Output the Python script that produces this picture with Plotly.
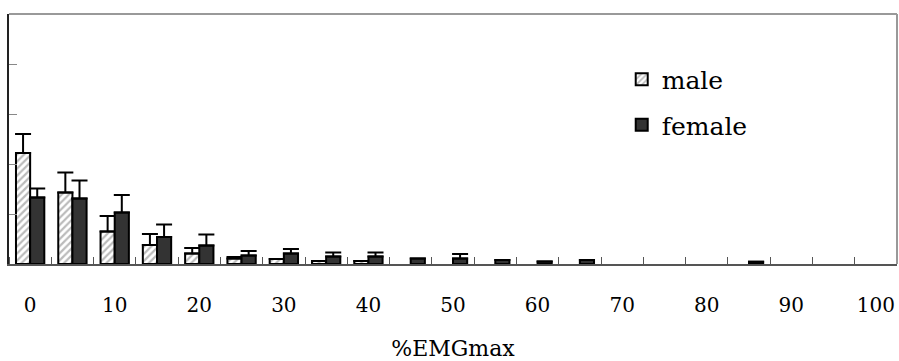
import plotly.graph_objects as go

bins = [0, 5, 10, 15, 20, 25, 30, 35, 40, 45, 50, 55, 60, 65, 70, 75, 80, 85, 90, 95, 100]
male = [22.2, 14.3, 6.5, 3.8, 2.1, 1.1, 1.0, 0.6, 0.6, None, None, None, None, None, None, None, None, None, None, None, None]
male_err = [3.8, 4.0, 3.1, 2.2, 1.1, 0.3, None, None, None, None, None, None, None, None, None, None, None, None, None, None, None]
female = [13.3, 13.1, 10.3, 5.4, 3.7, 1.7, 2.1, 1.5, 1.5, 1.1, 1.1, 0.8, 0.5, 0.8, None, None, None, 0.45, None, None, None]
female_err = [1.8, 3.6, 3.5, 2.5, 2.2, 0.9, 0.9, 0.8, 0.8, None, 0.9, None, None, None, None, None, None, None, None, None, None]
tick_vals = [0, 10, 20, 30, 40, 50, 60, 70, 80, 90, 100]
tick_text = [str(v) for v in tick_vals]

FONT = "DejaVu Serif"

fig = go.Figure()
fig.add_trace(go.Bar(
    x=bins, y=male, name="male", legendgroup="m",
    marker=dict(color="white", line=dict(color="black", width=2),
                pattern=dict(shape="/", fgcolor="#777777", bgcolor="white", size=5, solidity=0.45)),
    error_y=dict(type="data", array=male_err, arrayminus=[0] * len(bins), symmetric=False,
                 color="black", thickness=2, width=8),
))
fig.add_trace(go.Bar(
    x=bins, y=female, name="female", legendgroup="f",
    marker=dict(color="#333333", line=dict(color="black", width=2)),
    error_y=dict(type="data", array=female_err, arrayminus=[0] * len(bins), symmetric=False,
                 color="black", thickness=2, width=8),
))

fig.update_layout(
    width=899, height=361,
    margin=dict(l=9, r=2, t=14, b=97),
    paper_bgcolor="white", plot_bgcolor="white",
    barmode="group", bargap=0.33, bargroupgap=0,
    font=dict(family=FONT, color="black"),
    showlegend=True,
    legend=dict(x=0.69, y=0.83, xanchor="left", yanchor="top",
                font=dict(family=FONT, size=25, color="black"),
                bgcolor="rgba(0,0,0,0)", tracegroupgap=10, traceorder="grouped"),
    xaxis=dict(
        range=[-2.5, 102.5], tickmode="array", tickvals=tick_vals, ticktext=tick_text,
        ticks="", showgrid=False, zeroline=False,
        showline=True, linecolor="#555555", linewidth=2,
        tickfont=dict(family=FONT, size=20, color="black"),
        ticklabelstandoff=22,
        minor=dict(ticks="inside", tick0=2.5, dtick=5, ticklen=7, tickcolor="#555555", tickwidth=1, showgrid=False),
        title=dict(text="%EMGmax", font=dict(family=FONT, size=22, color="black"), standoff=26),
    ),
    yaxis=dict(
        range=[0, 50], dtick=10, ticks="inside", ticklen=8, tickcolor="#888888", tickwidth=1,
        showticklabels=False, showgrid=False, zeroline=False,
        showline=True, linecolor="#222222", linewidth=2,
    ),
    shapes=[
        dict(type="line", xref="paper", yref="paper", x0=0, x1=1, y0=1, y1=1,
             line=dict(color="#999999", width=2)),
        dict(type="line", xref="paper", yref="paper", x0=1, x1=1, y0=0, y1=1,
             line=dict(color="#999999", width=2)),
    ],
)

fig.write_html("out.html")
